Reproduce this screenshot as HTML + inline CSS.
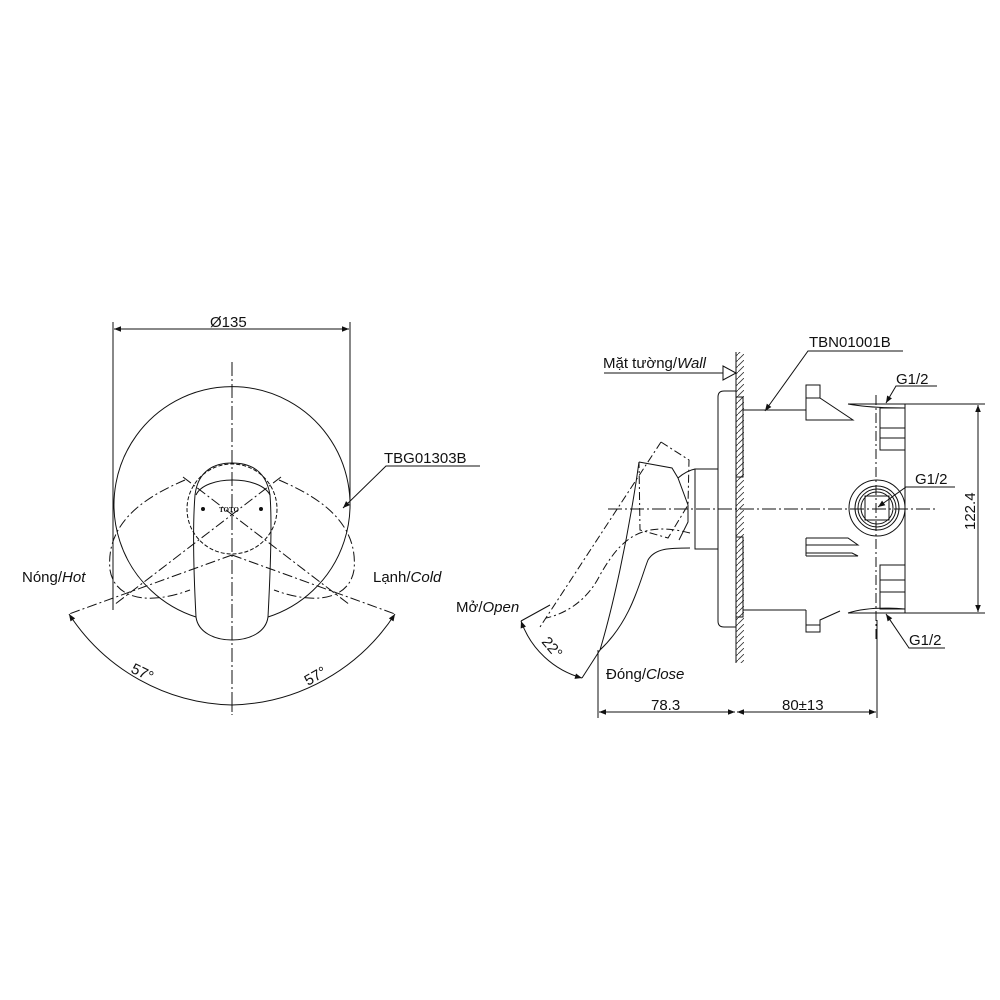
<!DOCTYPE html>
<html><head><meta charset="utf-8"><style>
html,body{margin:0;padding:0;background:#fff;}
svg{display:block;}
text{font-family:"Liberation Sans",Arial,sans-serif;font-size:15px;fill:#111;}
.i{font-style:italic;}
</style></head><body>
<svg width="1000" height="1000" viewBox="0 0 1000 1000" xmlns="http://www.w3.org/2000/svg">
<defs>
<marker id="a" viewBox="0 0 10 10" refX="10" refY="5" markerWidth="9" markerHeight="7" orient="auto-start-reverse" markerUnits="userSpaceOnUse"><path d="M0,1 L10,5 L0,9 z" fill="#111"/></marker>
<pattern id="h" width="6" height="6" patternUnits="userSpaceOnUse"><path d="M0,6 L6,0" stroke="#333" stroke-width="0.8"/></pattern>
</defs>
<g fill="none" stroke="#111" stroke-width="1">
<line x1="113" y1="322" x2="113" y2="610"/>
<line x1="350" y1="322" x2="350" y2="505"/>
<line x1="114" y1="329" x2="349" y2="329" marker-start="url(#a)" marker-end="url(#a)"/>
<line x1="232" y1="362" x2="232" y2="715" stroke-dasharray="14,3,2,3"/>
<path d="M196,617 A118,118 0 1 1 268,617"/>
<circle cx="232" cy="509" r="45" stroke-dasharray="4,2"/>
<path d="M196,617 C193,560 193,520 195,495 C198,470 215,463 232,463 C250,463 266,470 270,495 C272,520 271,560 268,617 C266,632 250,640 232,640 C214,640 198,632 196,617 Z"/>
<path d="M196,495 C205,475 260,475 270,495" />
<g stroke-dasharray="10,3,2,3">
<path d="M185,480 C150,495 105,520 110,570 C115,600 150,605 190,590"/>
<path d="M279,480 C314,495 359,520 354,570 C349,600 314,605 274,590"/>
<line x1="183" y1="477" x2="350" y2="605"/>
<line x1="281" y1="477" x2="114" y2="605"/>
<line x1="232" y1="555" x2="395" y2="614"/>
<line x1="232" y1="555" x2="69" y2="614"/>
</g>
<path d="M69,614 A200,200 0 0 0 232,705" marker-start="url(#a)"/>
<path d="M395,614 A200,200 0 0 1 232,705" marker-start="url(#a)"/>
<line x1="232" y1="700" x2="232" y2="712"/>
<circle cx="203" cy="509" r="1.5" fill="#111"/>
<circle cx="261" cy="509" r="1.5" fill="#111"/>
<polyline points="343,508 386,466 480,466" marker-start="url(#a)"/>

<line x1="736" y1="352" x2="736" y2="663"/>
<rect x="736" y="352" width="8" height="311" fill="url(#h)" stroke="none"/>
<line x1="604" y1="373" x2="723" y2="373"/>
<path d="M723,366 L736,373 L723,380 Z"/>
<path d="M724,391 L736,391 L736,627 L724,627 Q718,627 718,621 L718,397 Q718,391 724,391 Z"/>
<rect x="736" y="397" width="7" height="80"/>
<rect x="736" y="537" width="7" height="80"/>
<rect x="695" y="469" width="23" height="80"/>
<line x1="743" y1="410" x2="806" y2="410"/>
<line x1="743" y1="610" x2="806" y2="610"/>
<path d="M806,410 L806,385 L820,385 L820,398 L853,420 L806,420 Z"/>
<line x1="806" y1="398" x2="820" y2="398"/>
<path d="M806,610 L806,632 L820,632 L820,620 L840,611"/>
<line x1="806" y1="625" x2="820" y2="625"/>
<path d="M806,538 L848,538 L858,545 L806,545 M806,545 L806,553 L852,553 L858,556 L806,556 M806,538 L806,556"/>
<path d="M848,404 L905,404 L905,613 L848,613"/>
<path d="M848,404 Q870,408 905,408"/>
<path d="M848,613 Q870,606 905,609"/>
<rect x="880" y="408" width="25" height="42"/>
<line x1="880" y1="428" x2="905" y2="428"/><line x1="880" y1="438" x2="905" y2="438"/>
<rect x="880" y="565" width="25" height="44"/>
<line x1="880" y1="580" x2="905" y2="580"/><line x1="880" y1="592" x2="905" y2="592"/>
<circle cx="877" cy="508" r="28"/><circle cx="877" cy="508" r="22"/>
<circle cx="877" cy="508" r="19"/><circle cx="877" cy="508" r="16"/>
<rect x="865" y="496" width="24" height="24"/>
<line x1="876" y1="395" x2="876" y2="640" stroke-dasharray="10,3,2,3"/>
<line x1="608" y1="509" x2="935" y2="509" stroke-dasharray="14,3,2,3"/>
<path d="M639,462 L672,468 L678,478 L688,505 L688,522 L679,540"/>
<path d="M690,548 C670,548 655,548 648,560 C640,580 632,620 600,650 C612,610 628,540 639,462"/>
<path d="M678,478 C685,472 690,470 695,469"/>
<g stroke-dasharray="8,3,2,3">
<path d="M661,442 L689,460 L688,505 L668,538 L640,530 L639,462"/>
<line x1="661" y1="442" x2="540" y2="627"/>
<path d="M690,533 C640,520 620,540 600,575 C585,605 560,615 546,618"/>
</g>
<path d="M521,621 A90,90 0 0 0 582,678" marker-start="url(#a)" marker-end="url(#a)"/>
<line x1="521" y1="621" x2="550" y2="605"/>
<line x1="582" y1="678" x2="600" y2="650"/>
<line x1="598" y1="650" x2="598" y2="718"/>
<line x1="877" y1="620" x2="877" y2="718"/>
<line x1="599" y1="712" x2="735" y2="712" marker-start="url(#a)" marker-end="url(#a)"/>
<line x1="737" y1="712" x2="876" y2="712" marker-start="url(#a)" marker-end="url(#a)"/>
<line x1="905" y1="404" x2="985" y2="404"/>
<line x1="905" y1="613" x2="985" y2="613"/>
<line x1="978" y1="405" x2="978" y2="612" marker-start="url(#a)" marker-end="url(#a)"/>
<polyline points="765,411 808,351 903,351" marker-start="url(#a)"/>
<polyline points="886,403 896,386 937,386" marker-start="url(#a)"/>
<polyline points="878,507 906,487 955,487" marker-start="url(#a)"/>
<polyline points="886,614 909,648 945,648" marker-start="url(#a)"/>
</g>
<text x="210" y="327">Ø135</text>
<text x="384" y="463">TBG01303B</text>
<text x="22" y="582">Nóng/<tspan class="i">Hot</tspan></text>
<text x="373" y="582">Lạnh/<tspan class="i">Cold</tspan></text>
<text transform="translate(130,672) rotate(26)">57°</text>
<text transform="translate(308,686) rotate(-30)">57°</text>
<text x="603" y="368">Mặt tường/<tspan class="i">Wall</tspan></text>
<text x="809" y="347">TBN01001B</text>
<text x="896" y="384">G1/2</text>
<text x="915" y="484">G1/2</text>
<text x="909" y="645">G1/2</text>
<text x="456" y="612">Mở/<tspan class="i">Open</tspan></text>
<text x="606" y="679">Đóng/<tspan class="i">Close</tspan></text>
<text transform="translate(541,642) rotate(50)">22°</text>
<text x="651" y="710">78.3</text>
<text x="782" y="710">80±13</text>
<text transform="translate(975,530) rotate(-90)">122.4</text>
<text x="219" y="512" style="font-family:'Liberation Serif',serif;font-size:7px;font-weight:bold">TOTO</text>
</svg>
</body></html>
